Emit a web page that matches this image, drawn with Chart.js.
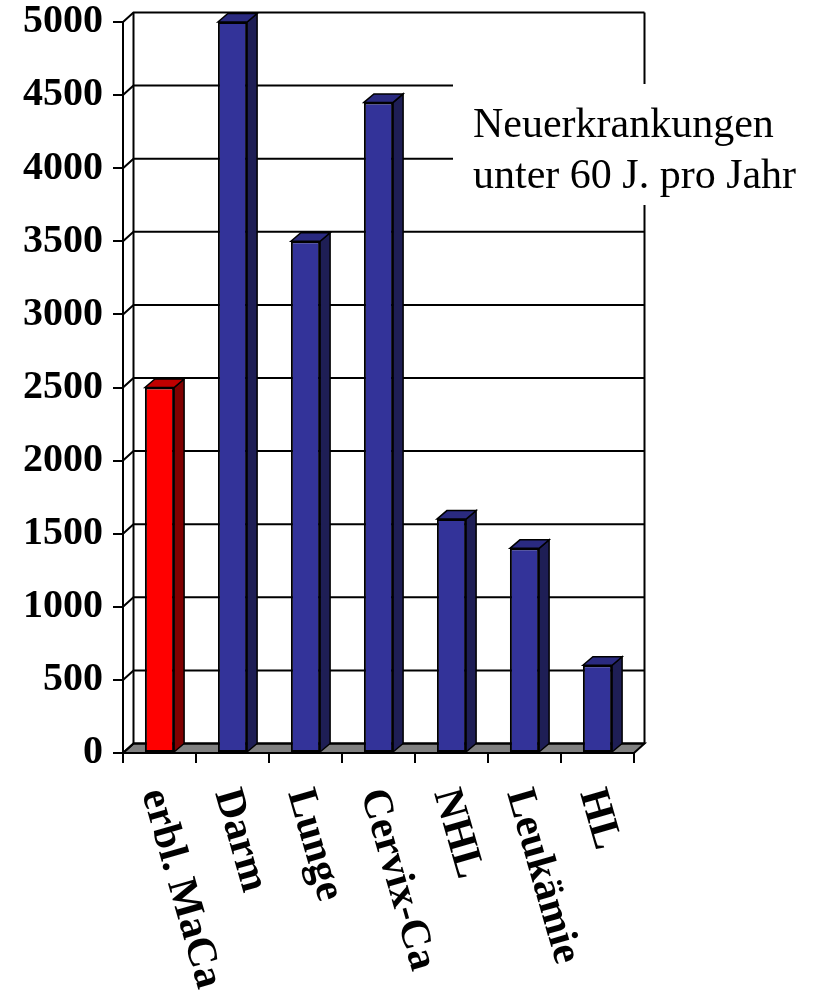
<!DOCTYPE html>
<html><head><meta charset="utf-8">
<script src="https://cdn.jsdelivr.net/npm/chart.js@4"></script>
<style>html,body{margin:0;padding:0;background:#fff;}canvas{display:block;}</style>
</head><body>
<canvas id="c" width="821" height="994"></canvas>
<script>
const categories = ['erbl. MaCa', 'Darm', 'Lunge', 'Cervix-Ca', 'NHL', 'Leukämie', 'HL'];
const values = [2500, 5000, 3500, 4450, 1600, 1400, 600];
const yTickValues = [0, 500, 1000, 1500, 2000, 2500, 3000, 3500, 4000, 4500, 5000];
const yTickLabels = ['0', '500', '1000', '1500', '2000', '2500', '3000', '3500', '4000', '4500', '5000'];
const noteLines = ['Neuerkrankungen', 'unter 60 J. pro Jahr'];
const highlighted = 'erbl. MaCa';

const SERIF = '"Liberation Serif", "Times New Roman", serif';
const WALL = {dx: 10.5, dy: 9.5};
const BAR = {dx: 10, dy: 8.5};
const faces = {
  '#FF0000': {top: '#C00000', side: '#800000'},
  '#333399': {top: '#2A2A80', side: '#1E1E55'}
};
const frontColors = categories.map(c => c === highlighted ? '#FF0000' : '#333399');

const fake3d = {
  id: 'fake3d',
  beforeDatasetsDraw(chart) {
    const {ctx, chartArea: a, scales: {y}} = chart;
    const bl = a.left + WALL.dx, br = a.right + WALL.dx;
    const bt = a.top - WALL.dy, bb = a.bottom - WALL.dy;
    ctx.save();
    ctx.strokeStyle = '#000';
    ctx.lineWidth = 2;
    ctx.fillStyle = '#808080';
    ctx.beginPath();
    ctx.moveTo(a.left, a.bottom); ctx.lineTo(a.right, a.bottom);
    ctx.lineTo(br, bb); ctx.lineTo(bl, bb); ctx.closePath();
    ctx.fill(); ctx.stroke();
    y.ticks.forEach(t => {
      const py = y.getPixelForValue(t.value);
      ctx.beginPath();
      ctx.moveTo(a.left, py);
      ctx.lineTo(bl, py - WALL.dy);
      ctx.lineTo(br, py - WALL.dy);
      ctx.stroke();
    });
    ctx.beginPath();
    ctx.moveTo(bl, bt); ctx.lineTo(bl, bb);
    ctx.moveTo(br, bt); ctx.lineTo(br, bb);
    ctx.stroke();
    const meta = chart.getDatasetMeta(0);
    ctx.lineWidth = 1.5;
    meta.data.forEach((el, i) => {
      const p = el.getProps(['x', 'y', 'base', 'width'], true);
      const l = p.x - p.width / 2, r = p.x + p.width / 2;
      const f = faces[frontColors[i]];
      ctx.fillStyle = f.side;
      ctx.beginPath();
      ctx.moveTo(r, p.y); ctx.lineTo(r + BAR.dx, p.y - BAR.dy);
      ctx.lineTo(r + BAR.dx, p.base - BAR.dy); ctx.lineTo(r, p.base);
      ctx.closePath(); ctx.fill(); ctx.stroke();
      ctx.fillStyle = f.top;
      ctx.beginPath();
      ctx.moveTo(l, p.y); ctx.lineTo(l + BAR.dx, p.y - BAR.dy);
      ctx.lineTo(r + BAR.dx, p.y - BAR.dy); ctx.lineTo(r, p.y);
      ctx.closePath(); ctx.fill(); ctx.stroke();
    });
    ctx.restore();
  },
  afterDraw(chart) {
    const {ctx, chartArea: a, scales: {x}} = chart;
    ctx.save();
    ctx.fillStyle = '#000';
    ctx.font = 'bold 42px ' + SERIF;
    ctx.textAlign = 'left';
    ctx.textBaseline = 'middle';
    chart.data.labels.forEach((lab, i) => {
      const px = x.getPixelForValue(i);
      ctx.save();
      ctx.translate(px - 7, a.bottom + 37);
      ctx.rotate(74 * Math.PI / 180);
      ctx.fillText(lab, 0, 0);
      ctx.restore();
    });
    const bx = a.right - 181, by = 84;
    ctx.fillStyle = '#fff';
    ctx.fillRect(bx, by, 362, 121);
    ctx.fillStyle = '#000';
    ctx.font = '42px ' + SERIF;
    ctx.textBaseline = 'alphabetic';
    ctx.fillText(noteLines[0], bx + 20, by + 53);
    ctx.fillText(noteLines[1], bx + 20, by + 104);
    ctx.restore();
  }
};

new Chart(document.getElementById('c'), {
  type: 'bar',
  data: {
    labels: categories,
    datasets: [{
      data: values,
      backgroundColor: frontColors,
      borderColor: '#000',
      borderWidth: 2,
      borderSkipped: false,
      barPercentage: 0.4,
      categoryPercentage: 1
    }]
  },
  options: {
    responsive: false,
    animation: false,
    devicePixelRatio: 1,
    layout: {padding: {top: 22, right: 187, left: 0, bottom: 0}},
    plugins: {legend: {display: false}, tooltip: {enabled: false}, title: {display: false}},
    scales: {
      x: {
        offset: true,
        grid: {offset: true, drawOnChartArea: false, drawTicks: true, tickLength: 10, color: '#000', lineWidth: 2},
        border: {display: true, color: '#000', width: 2},
        ticks: {display: false},
        afterFit(s) { s.height = 241; s.paddingLeft = 0; s.paddingRight = 0; }
      },
      y: {
        min: 0, max: 5000,
        afterBuildTicks(s) { s.ticks = yTickValues.map(v => ({value: v})); },
        ticks: {
          color: '#000', padding: 10,
          font: {family: SERIF, size: 40, weight: 'bold', lineHeight: 1},
          callback(v) { return yTickLabels[yTickValues.indexOf(v)]; }
        },
        grid: {drawOnChartArea: false, tickLength: 10, color: '#000', lineWidth: 2},
        border: {display: true, color: '#000', width: 2},
        afterFit(s) { s.width = 123; s.paddingTop = 0; s.paddingBottom = 0; }
      }
    }
  },
  plugins: [fake3d]
});
</script>
</body></html>
